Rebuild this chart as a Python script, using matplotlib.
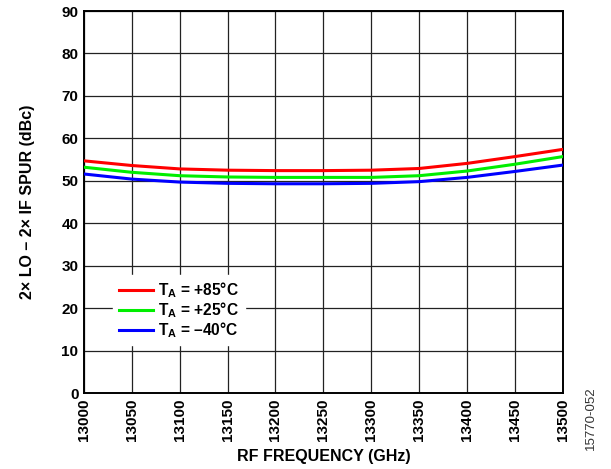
import matplotlib
matplotlib.use("Agg")
import matplotlib.pyplot as plt

plt.rcParams["font.family"] = ["Liberation Sans", "DejaVu Sans"]
plt.rcParams["font.weight"] = "bold"
plt.rcParams["mathtext.fontset"] = "custom"
plt.rcParams["mathtext.rm"] = "Liberation Sans:bold"
plt.rcParams["mathtext.bf"] = "Liberation Sans:bold"

freq = [13000, 13050, 13100, 13150, 13200, 13250, 13300, 13350, 13400, 13450, 13500]
spur_85 = [54.7, 53.6, 52.8, 52.5, 52.4, 52.4, 52.5, 52.9, 54.1, 55.7, 57.4]
spur_25 = [53.2, 52.0, 51.2, 50.9, 50.8, 50.8, 50.8, 51.2, 52.3, 53.9, 55.7]
spur_m40 = [51.6, 50.4, 49.7, 49.4, 49.3, 49.3, 49.4, 49.8, 50.8, 52.2, 53.7]
labels = [r"T$_\mathrm{A}$ = +85°C", r"T$_\mathrm{A}$ = +25°C", r"T$_\mathrm{A}$ = –40°C"]
colors = ["#ff0000", "#00ee00", "#0000ff"]

fig = plt.figure(figsize=(6.11, 4.69), dpi=100)
ax = fig.add_axes([0.1375, 0.162, 0.7835, 0.8145])
for y, lab, c in zip([spur_85, spur_25, spur_m40], labels, colors):
    ax.plot(freq, y, color=c, lw=2.2, label=lab, zorder=3)

ax.set_xlim(13000, 13500); ax.set_ylim(0, 90)
ax.set_xticks(range(13000, 13501, 50))
ax.set_yticks(range(0, 91, 10))
ax.tick_params(length=0, labelsize=11, pad=4)
plt.setp(ax.get_xticklabels(), rotation=90)
ax.grid(True, color="#222222", lw=0.9)
for s in ax.spines.values():
    s.set_linewidth(1.4)
ax.set_xlabel("RF FREQUENCY (GHz)", fontsize=11.5, fontweight="bold", labelpad=6)
ax.set_ylabel("2× LO – 2× IF SPUR (dBc)", fontsize=11.5, fontweight="bold", labelpad=19)

leg = ax.legend(loc="lower left", bbox_to_anchor=(0.045, 0.105), fontsize=11.2, frameon=True,
                fancybox=False, handlelength=2.2, handletextpad=0.35, labelspacing=0.0,
                borderpad=0.35)
leg.get_frame().set_edgecolor("white"); leg.get_frame().set_facecolor("white"); leg.get_frame().set_alpha(1)

fig.text(0.968, 0.108, "15770-052", rotation=90, fontsize=9.5, fontweight="normal", color="#333333",
         ha="center", va="center")
fig.savefig("out.png", dpi=100)
